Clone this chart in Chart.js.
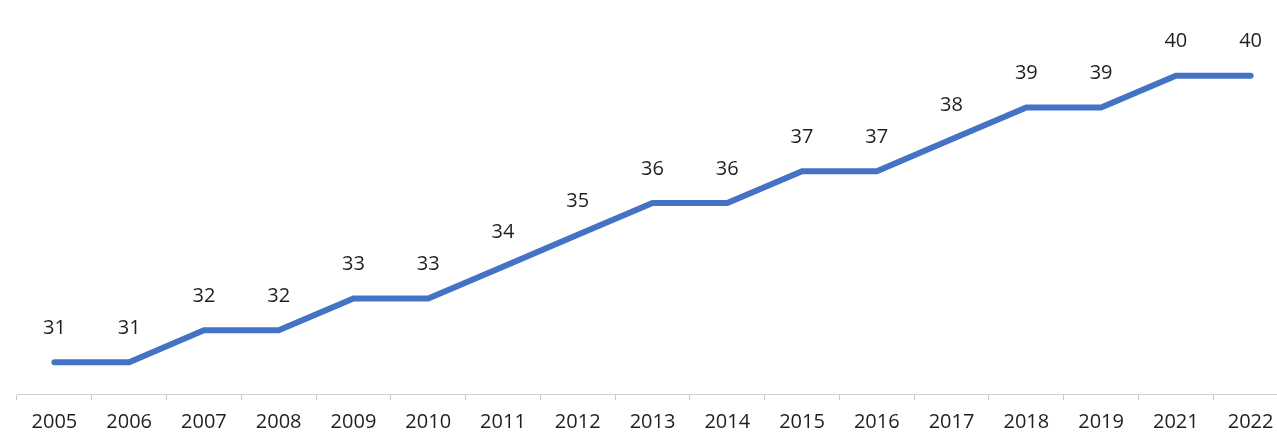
<!DOCTYPE html>
<html>
<head>
<meta charset="utf-8">
<script src="https://cdn.jsdelivr.net/npm/chart.js@4/dist/chart.umd.min.js"></script>
<style>
  html, body { margin: 0; padding: 0; background: #fff; overflow: hidden; }
</style>
</head>
<body>
<canvas id="grafico" width="1290" height="434"></canvas>
<script>
const anos = ['2005', '2006', '2007', '2008', '2009', '2010', '2011', '2012', '2013',
              '2014', '2015', '2016', '2017', '2018', '2019', '2021', '2022'];
const valores = [31, 31, 32, 32, 33, 33, 34, 35, 36, 36, 37, 37, 38, 39, 39, 40, 40];

const fonte = "'Open Sans', 'Liberation Sans', sans-serif";

// escreve o valor acima de cada ponto
const rotulos = {
    id: 'rotulos',
    afterDatasetsDraw(chart) {
        const ctx = chart.ctx;
        const meta = chart.getDatasetMeta(0);
        ctx.save();
        ctx.font = '20px ' + fonte;
        ctx.fillStyle = '#1f1f1f';
        ctx.textAlign = 'center';
        ctx.textBaseline = 'middle';
        meta.data.forEach((pt, i) => {
            ctx.fillText(String(valores[i]), pt.x, pt.y - 34);
        });
        ctx.restore();
    }
};

const ctxGrafico = document.getElementById('grafico').getContext('2d');

new Chart(ctxGrafico, {
    type: 'line',
    data: {
        labels: anos,
        datasets: [{
            data: valores,
            borderColor: '#4472C4',
            borderWidth: 6,
            borderCapStyle: 'round',
            pointRadius: 0,
            fill: false,
            tension: 0
        }]
    },
    options: {
        responsive: false,
        animation: false,
        layout: { padding: { left: 17, right: 2, top: 12, bottom: 0 } },
        plugins: {
            legend: { display: false },
            tooltip: { enabled: false }
        },
        scales: {
            x: {
                offset: true,
                grid: {
                    offset: true,
                    drawOnChartArea: false,
                    drawTicks: true,
                    tickLength: 6,
                    color: '#c8c8c8',
                    lineWidth: 1
                },
                border: { color: '#d0d0d0', width: 1 },
                ticks: {
                    color: '#1f1f1f',
                    font: { family: fonte, size: 20 },
                    padding: 10,
                    maxRotation: 0,
                    autoSkip: false
                },
                afterFit(scale) { scale.height = 40; }
            },
            y: {
                display: false,
                min: 30,
                max: 42
            }
        }
    },
    plugins: [rotulos]
});
</script>
</body>
</html>
